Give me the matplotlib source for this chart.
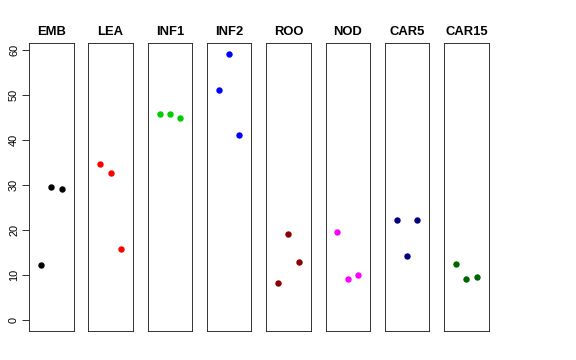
import numpy as np
import matplotlib
matplotlib.use('Agg')
import matplotlib.pyplot as plt

plt.rcParams['font.family'] = ['Liberation Sans', 'DejaVu Sans']

tissues = ['EMB', 'LEA', 'INF1', 'INF2', 'ROO', 'NOD', 'CAR5', 'CAR15']
colors = ['black', 'red', '#00CD00', 'blue', '#8B0000', 'magenta', '#000080', '#006400']
reps = [1, 2, 3]
values = [
    [12.2, 29.6, 29.1],
    [34.6, 32.7, 15.8],
    [45.7, 45.7, 44.8],
    [51.0, 59.1, 41.0],
    [8.2, 19.2, 12.9],
    [19.5, 9.2, 10.0],
    [22.3, 14.2, 22.3],
    [12.5, 9.2, 9.7],
]
yticks = [0, 10, 20, 30, 40, 50, 60]

W, H = 576, 360
fig = plt.figure(figsize=(W / 72, H / 72), dpi=72)

ymax = max(max(v) for v in values)
pad = 0.04 * ymax
for i, (name, col, vals) in enumerate(zip(tissues, colors, values)):
    left = 29 + i * 59.3
    ax = fig.add_axes([left / W, 29 / H, 44.5 / W, 288 / H])
    ax.plot(reps, vals, 'o', color=col, markersize=6.4, markeredgewidth=0)
    ax.set_xlim(-0.16, 4.16)
    ax.set_ylim(-pad, ymax + pad)
    ax.set_xticks([])
    for s in ax.spines.values():
        s.set_linewidth(0.9)
        s.set_color('#222222')
    ax.set_title(name, fontsize=13, fontweight='bold', pad=8)
    if i == 0:
        ax.set_yticks(yticks)
        ax.tick_params(axis='y', length=7, width=0.8, pad=3, labelsize=11)
        for lab in ax.get_yticklabels():
            lab.set_rotation(90)
            lab.set_va('center')
    else:
        ax.set_yticks([])

fig.savefig('out.png', dpi=72)
